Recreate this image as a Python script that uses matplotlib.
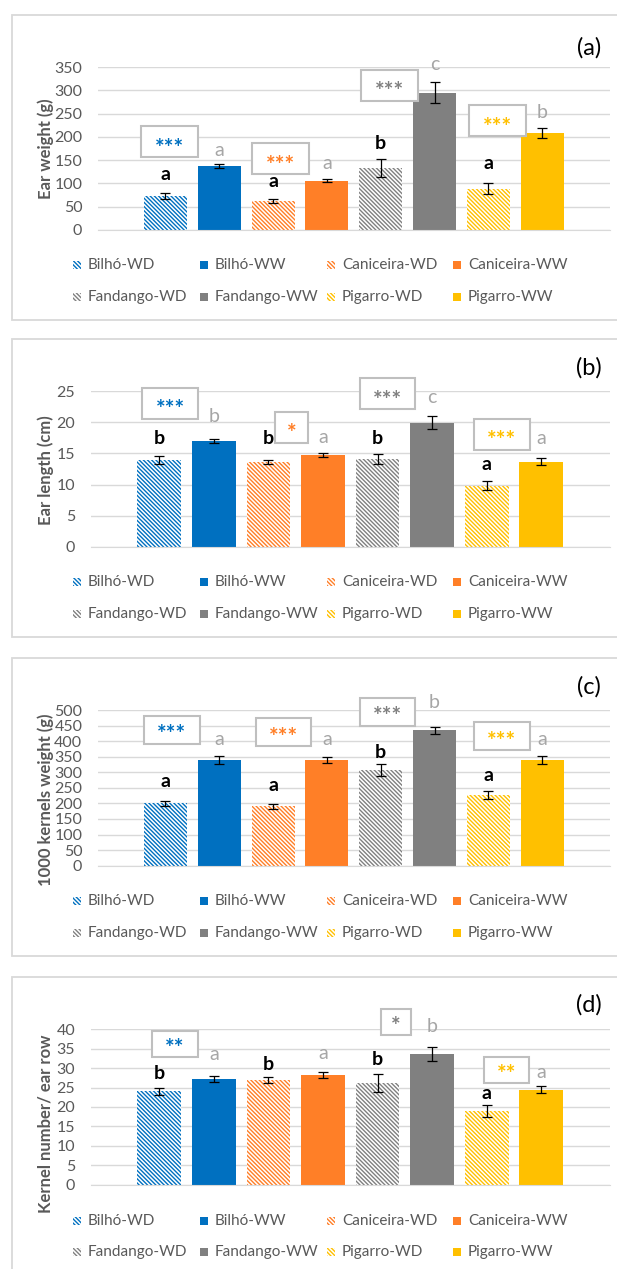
import numpy as np
import matplotlib
matplotlib.use('Agg')
import matplotlib.pyplot as plt
from matplotlib.patches import Rectangle

plt.rcParams['font.family'] = ['Lato', 'DejaVu Sans']
plt.rcParams['hatch.linewidth'] = 1.0

# series (one bar each, same order in every panel)
series = ['Bilhó-WD', 'Bilhó-WW', 'Caniceira-WD', 'Caniceira-WW',
          'Fandango-WD', 'Fandango-WW', 'Pigarro-WD', 'Pigarro-WW']
colors = ['#0070C0', '#0070C0', '#FF7F27', '#FF7F27',
          '#808080', '#808080', '#FFC000', '#FFC000']
hatched = [True, False, True, False, True, False, True, False]

# (a) ear weight (g)
ear_weight = [73, 137, 62, 106, 133, 295, 88, 208]
ear_weight_err = [6, 5, 4, 4, 19, 23, 12, 11]
ear_weight_letters = ['a', 'a', 'a', 'a', 'b', 'c', 'a', 'b']
ear_weight_letter_y = [107, 159.5, 91, 130, 173, 344, 130, 240]
ear_weight_stars = ['***', '***', '***', '***']

# (b) ear length (cm)
ear_length = [14.0, 16.95, 13.6, 14.8, 14.1, 19.95, 9.8, 13.7]
ear_length_err = [0.65, 0.3, 0.35, 0.3, 0.85, 1.05, 0.7, 0.5]
ear_length_letters = ['b', 'b', 'b', 'a', 'b', 'c', 'a', 'a']
ear_length_letter_y = [16.6, 20.0, 16.6, 16.7, 16.6, 23.1, 12.3, 16.6]
ear_length_stars = ['***', '*', '***', '***']

# (c) 1000 kernels weight (g)
kernel_weight = [200, 339, 191, 339, 307, 435, 227, 339]
kernel_weight_err = [8.5, 13, 8.5, 10, 19, 11, 12, 12]
kernel_weight_letters = ['a', 'a', 'a', 'a', 'b', 'b', 'a', 'a']
kernel_weight_letter_y = [254, 388, 240, 388, 345, 506, 273, 388]
kernel_weight_stars = ['***', '***', '***', '***']

# (d) kernel number / ear row
kernel_row = [24.0, 27.2, 27.0, 28.3, 26.1, 33.7, 19.0, 24.4]
kernel_row_err = [1.0, 0.8, 0.77, 0.77, 2.3, 1.85, 1.5, 0.9]
kernel_row_letters = ['b', 'a', 'b', 'a', 'b', 'b', 'a', 'a']
kernel_row_letter_y = [27.2, 32.1, 29.5, 32.3, 30.8, 39.4, 22.1, 27.4]
kernel_row_stars = ['**', '', '*', '**']

W, H = 617, 1269
fig = plt.figure(figsize=(W / 100, H / 100), dpi=100)

panels = [
    dict(tag='(a)', ylabel='Ear weight (g)', vals=ear_weight, err=ear_weight_err,
         letters=ear_weight_letters, letter_y=ear_weight_letter_y, stars=ear_weight_stars,
         ymax=350, step=50, left=97.6, top=67.3, bottom=229.7, label_y=148.3,
         frame=(15, 320), tag_y=48, leg_y=(265, 297),
         box_dx=[0.07, 0.13, 0.17, 0.17], box_y=[189.6, 152.8, 311, 235],
         box_w=[57, 57, 57, 57], box_h=31),
    dict(tag='(b)', ylabel='Ear length (cm)', vals=ear_length, err=ear_length_err,
         letters=ear_length_letters, letter_y=ear_length_letter_y, stars=ear_length_stars,
         ymax=25, step=5, left=90.5, top=391.3, bottom=546.7, label_y=469.7,
         frame=(339, 637), tag_y=368, leg_y=(581.7, 614),
         box_dx=[0.2, 0.42, 0.18, 0.28], box_y=[23.1, 19.2, 24.6, 18.1],
         box_w=[56, 33, 55, 56], box_h=31),
    dict(tag='(c)', ylabel='1000 kernels weight (g)', vals=kernel_weight, err=kernel_weight_err,
         letters=kernel_weight_letters, letter_y=kernel_weight_letter_y, stars=kernel_weight_stars,
         ymax=500, step=50, left=97.6, top=710, bottom=865.7, label_y=800,
         frame=(658, 956), tag_y=687, leg_y=(900.7, 932.7),
         box_dx=[0.12, 0.19, 0.12, 0.25], box_y=[437, 428, 495, 417],
         box_w=[56, 55, 55, 56], box_h=28),
    dict(tag='(d)', ylabel='Kernel number/ ear row', vals=kernel_row, err=kernel_row_err,
         letters=kernel_row_letters, letter_y=kernel_row_letter_y, stars=kernel_row_stars,
         ymax=40, step=5, left=90.5, top=1029.3, bottom=1184.7, label_y=1123.3,
         frame=(977, 1285), tag_y=1005, leg_y=(1220.7, 1251.7),
         box_dx=[0.28, 0, 0.34, 0.37], box_y=[36.1, 0, 41.8, 29.5],
         box_w=[46, 0, 30, 45], box_h=26),
]

right = 610
xlim = (-1.26, 8.26)
x = np.arange(len(series))
leg_cols = [77, 204, 331, 457]
hatch = '\\' * 8

for p in panels:
    # panel frame (behind the axes)
    fig.patches.append(Rectangle((11.7 / W, 1 - p['frame'][1] / H), (640 - 11.7) / W,
                                 (p['frame'][1] - p['frame'][0]) / H, transform=fig.transFigure,
                                 facecolor='white', edgecolor='#D9D9D9', lw=1.3, zorder=-5))
    ax = fig.add_axes([p['left'] / W, 1 - p['bottom'] / H, (right - p['left']) / W,
                       (p['bottom'] - p['top']) / H])
    ax.set_facecolor('none')
    for i in range(len(series)):
        if hatched[i]:
            ax.bar(x[i], p['vals'][i], width=0.8, facecolor='white', edgecolor=colors[i],
                   hatch=hatch, lw=0, zorder=2)
        else:
            ax.bar(x[i], p['vals'][i], width=0.8, color=colors[i], lw=0, zorder=2)
    ax.errorbar(x, p['vals'], yerr=p['err'], fmt='none', ecolor='black', elinewidth=0.9,
                capsize=3.5, capthick=0.9, zorder=3)
    ax.set_xlim(*xlim)
    ax.set_ylim(0, p['ymax'])
    ax.set_yticks(np.arange(0, p['ymax'] + 1, p['step']))
    ax.set_xticks([])
    ax.grid(axis='y', color='#D9D9D9', lw=1.0, zorder=0)
    ax.set_axisbelow(True)
    for s in ['top', 'right', 'left']:
        ax.spines[s].set_visible(False)
    ax.spines['bottom'].set_color('#D9D9D9')
    ax.tick_params(axis='y', length=0, pad=11, labelsize=11.5, labelcolor='#595959')

    # y label
    fig.text(45.3 / W, 1 - p['label_y'] / H, p['ylabel'], rotation=90, ha='center', va='center',
             fontsize=12, fontweight='bold', color='#595959')
    # panel tag
    fig.text(589 / W, 1 - p['tag_y'] / H, p['tag'], ha='center', va='center', fontsize=17,
             color='black')

    # significance letters
    for i in range(len(series)):
        if hatched[i]:
            ax.text(x[i], p['letter_y'][i], p['letters'][i], ha='center', va='baseline',
                    fontsize=14, fontweight='bold', color='black', zorder=5, clip_on=False)
        else:
            ax.text(x[i], p['letter_y'][i], p['letters'][i], ha='center', va='baseline',
                    fontsize=14, color='#A6A6A6', zorder=5, clip_on=False)

    # star boxes between WD and WW
    px_x = (right - p['left']) / (xlim[1] - xlim[0])
    px_y = (p['bottom'] - p['top']) / p['ymax']
    for g in range(4):
        if not p['stars'][g]:
            continue
        cx = x[2 * g] + p['box_dx'][g]
        cy = p['box_y'][g]
        bw = p['box_w'][g] / px_x
        bh = p['box_h'] / px_y
        ax.add_patch(Rectangle((cx - bw / 2, cy - bh / 2), bw, bh, facecolor='white',
                               edgecolor='#BFBFBF', lw=1.5, zorder=6, clip_on=False))
        ax.text(cx, cy - 0.42 * bh, p['stars'][g], ha='center', va='baseline', fontsize=16.5,
                fontweight='bold', color=colors[2 * g], zorder=7, clip_on=False)

    # legend
    for i in range(len(series)):
        row, col = i // 4, i % 4
        ly = p['leg_y'][row]
        mx = leg_cols[col]
        if hatched[i]:
            fig.patches.append(Rectangle(((mx - 3.8) / W, 1 - (ly + 3.8) / H), 7.6 / W, 7.6 / H,
                                         transform=fig.transFigure, facecolor='white',
                                         edgecolor=colors[i], hatch=hatch, lw=0, zorder=3))
        else:
            fig.patches.append(Rectangle(((mx - 3.8) / W, 1 - (ly + 3.8) / H), 7.6 / W, 7.6 / H,
                                         transform=fig.transFigure, facecolor=colors[i],
                                         lw=0, zorder=3))
        fig.text((mx + 11) / W, 1 - ly / H, series[i], ha='left', va='center', fontsize=11,
                 color='#595959')

fig.savefig('out.png', dpi=100, facecolor='white')
